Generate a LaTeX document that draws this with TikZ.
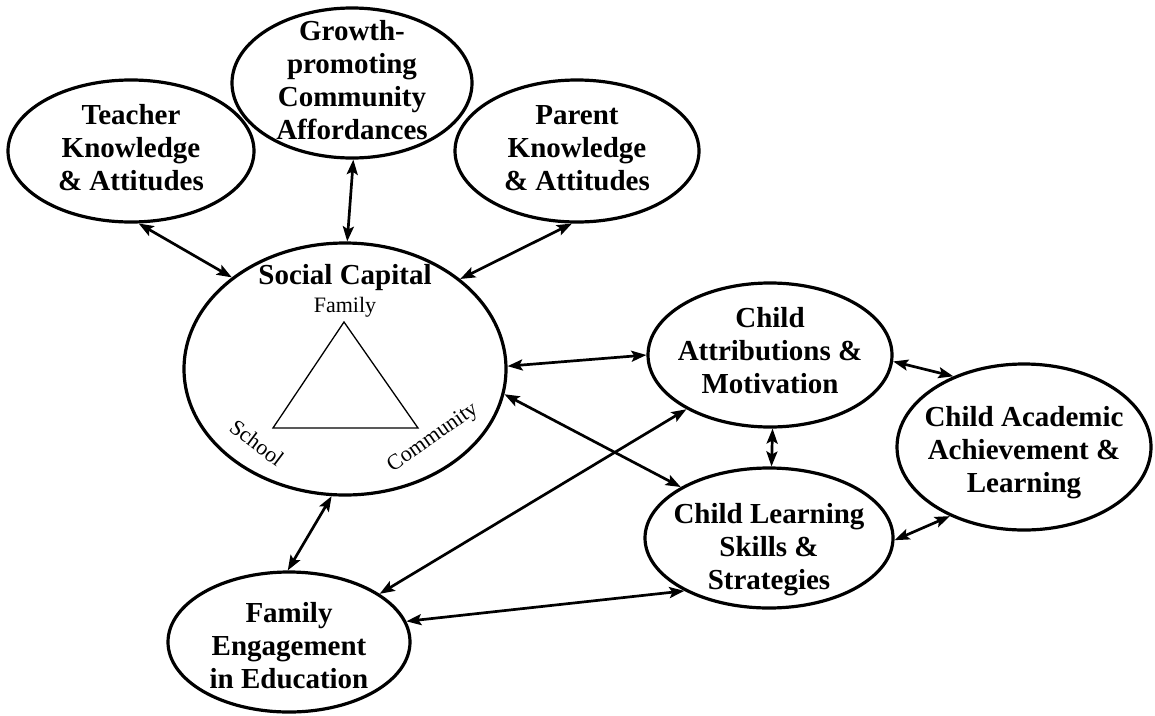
\documentclass[tikz,border=0pt]{standalone}
\usepackage{fontspec}
\setmainfont{Liberation Serif}
\usetikzlibrary{arrows.meta,shapes.geometric}
\begin{document}
\begin{tikzpicture}[x=1pt,y=-1pt,
  bubble/.style={draw, ellipse, line width=3.2pt, inner sep=0pt},
  caption/.style={inner sep=0pt, align=center,
    font=\bfseries\fontsize{29}{33}\selectfont},
  link/.style={line width=2.7pt,
    {Stealth[length=15pt,width=11pt,inset=3pt]}-{Stealth[length=15pt,width=11pt,inset=3pt]}},
  corner/.style={font=\fontsize{22}{24}\selectfont, inner sep=0pt}]
\useasboundingbox (0,0) rectangle (1155,715);

% outer factors
\node[bubble, minimum width=246pt, minimum height=142pt] (teacher) at (131,151) {};
\node[caption] (teachertext) at (131,148) {Teacher\\Knowledge\\\& Attitudes};
\node[bubble, minimum width=240pt, minimum height=150pt] (growth) at (352,83) {};
\node[caption] (growthtext) at (352,80) {Growth-\\promoting\\Community\\Affordances};
\node[bubble, minimum width=244pt, minimum height=142pt] (parent) at (577,151) {};
\node[caption] (parenttext) at (577,148) {Parent\\Knowledge\\\& Attitudes};

% social capital circle with its triangle
\node[bubble, minimum width=322pt, minimum height=252pt] (social) at (345,369) {};
\node[caption, anchor=base] (sctitle) at (345,284) {Social Capital};
\node[corner, anchor=base] (fam) at (345,312) {Family};
\coordinate (tA) at (344,322);
\coordinate (tB) at (273,428);
\coordinate (tC) at (418,428);
\draw[line width=1.3pt, line join=miter] (tA) -- (tB) -- (tC) -- cycle;
\node[corner, rotate=-37] (school) at (257,443) {School};
\node[corner, rotate=35] (comm) at (433,438) {Community};

% child outcomes
\node[bubble, minimum width=244pt, minimum height=144pt] (attr) at (770,355) {};
\node[caption] (attrtext) at (770,351) {Child\\Attributions \&\\Motivation};
\node[bubble, minimum width=248pt, minimum height=140pt] (learn) at (769,538) {};
\node[caption] (learntext) at (769,550) {Child Learning\\Skills \&\\Strategies};
\node[bubble, minimum width=254pt, minimum height=166pt] (acad) at (1024,447) {};
\node[caption] (acadtext) at (1024,453) {Child Academic\\Achievement \&\\Learning};
\node[bubble, minimum width=242pt, minimum height=140pt] (family) at (289,642) {};
\node[caption] (familytext) at (289,646) {Family\\Engagement\\in Education};

% two-way links
\draw[link] (teacher.-84) -- (social.141);
\draw[link] (growth.-89) -- (social.89);
\draw[link] (parent.-94) -- (social.38);
\draw[link] (social.1.5) -- (attr.180);
\draw[link] (social.-9) -- (learn.150);
\draw[link] (social.-96) -- (family.91);
\draw[link] (attr.-147) -- (family.28);
\draw[link] (learn.-148) -- (family.10);
\draw[link] (attr.-88) -- (learn.88);
\draw[link] (attr.-3) -- (acad.135);
\draw[link] (learn.-1) -- (acad.-137);
\end{tikzpicture}
\end{document}
